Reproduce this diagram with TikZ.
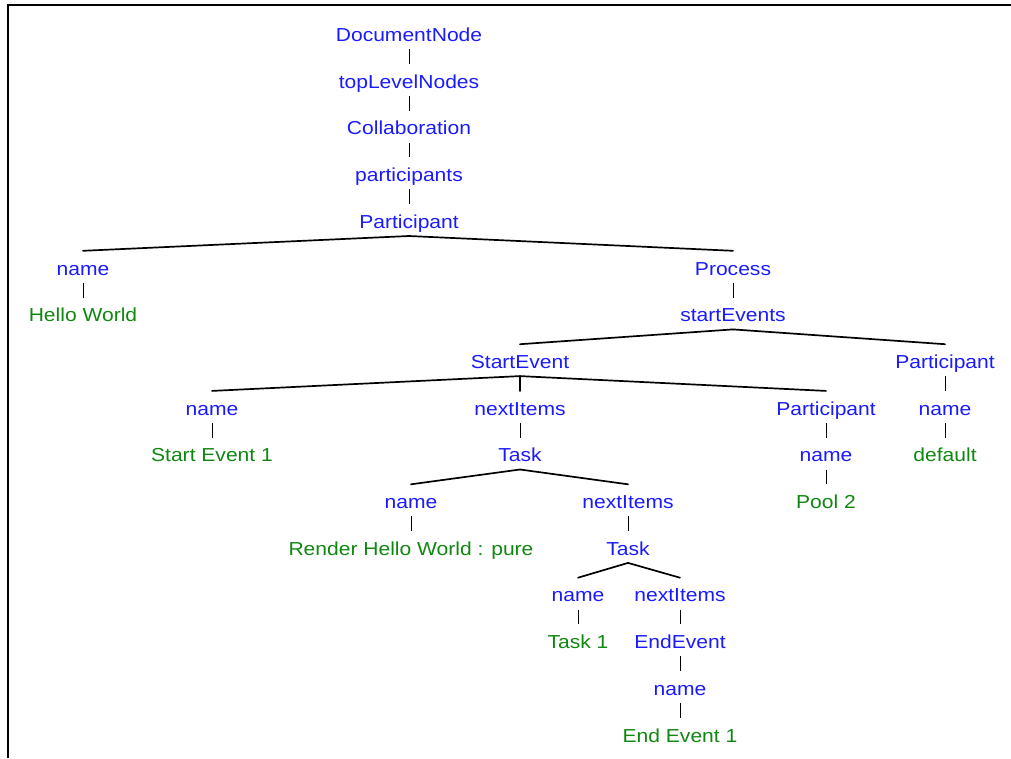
\documentclass[tikz,border=0pt]{standalone}
\usepackage{fontspec}
\setmainfont{Liberation Sans}[FakeStretch=1.12]
\begin{document}
\begin{tikzpicture}[x=1pt,y=-1pt,
  tn/.style={anchor=base,inner xsep=0pt,inner ysep=7.5pt,text height=16.5pt,text depth=0pt,
    font=\fontsize{18.8}{22}\selectfont},
  key/.style={tn,text={rgb,255:red,26;green,26;blue,255}},
  val/.style={tn,text={rgb,255:red,16;green,135;blue,16}},
  stem/.style={draw=black,line width=1pt},
  fork/.style={draw=black,line width=1.7pt,line cap=round},
  frame/.style={draw=black,line width=2pt}]
\useasboundingbox (0,0) rectangle (1011,758);
% frame: top and left edges only
\draw[frame] (8.3,758) -- (8.3,4.5) -- (1011,4.5);
% row baselines: 41.5 + 46.7 k
\def\rowy#1{41.5+46.7*#1}
\node[key] (doc)   at (409,{\rowy{0}}) {DocumentNode};
\node[key] (tln)   at (409,{\rowy{1}}) {topLevelNodes};
\node[key] (collab) at (409,{\rowy{2}}) {Collaboration};
\node[key] (parts) at (409,{\rowy{3}}) {participants};
\node[key] (partA) at (409,{\rowy{4}}) {Participant};
\node[key] (nameA) at (83,{\rowy{5}}) {name};
\node[key] (proc)  at (733,{\rowy{5}}) {Process};
\node[val] (hello) at (83,{\rowy{6}}) {Hello World};
\node[key] (sevs)  at (733,{\rowy{6}}) {startEvents};
\node[key] (sev)   at (520,{\rowy{7}}) {StartEvent};
\node[key] (partC) at (945,{\rowy{7}}) {Participant};
\node[key] (nameB) at (212,{\rowy{8}}) {name};
\node[key] (nxtA)  at (520,{\rowy{8}}) {nextItems};
\node[key] (partB) at (826,{\rowy{8}}) {Participant};
\node[key] (nameE) at (945,{\rowy{8}}) {name};
\node[val] (se1)   at (212,{\rowy{9}}) {Start Event 1};
\node[key] (taskA) at (520,{\rowy{9}}) {Task};
\node[key] (nameD) at (826,{\rowy{9}}) {name};
\node[val] (dflt)  at (945,{\rowy{9}}) {default};
\node[key] (nameC) at (411,{\rowy{10}}) {name};
\node[key] (nxtB)  at (628,{\rowy{10}}) {nextItems};
\node[val] (pool)  at (826,{\rowy{10}}) {Pool 2};
\node[val] (rhw)   at (411,{\rowy{11}}) {Render Hello World : pure};
\node[key] (taskB) at (628,{\rowy{11}}) {Task};
\node[key] (nameF) at (578,{\rowy{12}}) {name};
\node[key] (nxtC)  at (680,{\rowy{12}}) {nextItems};
\node[val] (t1)    at (578,{\rowy{13}}) {Task 1};
\node[key] (eev)   at (680,{\rowy{13}}) {EndEvent};
\node[key] (nameG) at (680,{\rowy{14}}) {name};
\node[val] (ee1)   at (680,{\rowy{15}}) {End Event 1};
% single-child links
\foreach \a/\b in {doc/tln,tln/collab,collab/parts,parts/partA,
  nameA/hello,proc/sevs,partC/nameE,
  nameB/se1,nxtA/taskA,partB/nameD,nameE/dflt,
  nameD/pool,nameC/rhw,nxtB/taskB,
  nameF/t1,nxtC/eev,eev/nameG,nameG/ee1}
  \draw[stem] (\a.south) -- (\b.north);
% branching links
\foreach \a/\b in {partA/nameA,partA/proc,sevs/sev,sevs/partC,
  sev/nameB,sev/nxtA,sev/partB,taskA/nameC,taskA/nxtB,
  taskB/nameF,taskB/nxtC}
  \draw[fork] (\a.south) -- (\b.north);
\end{tikzpicture}
\end{document}
